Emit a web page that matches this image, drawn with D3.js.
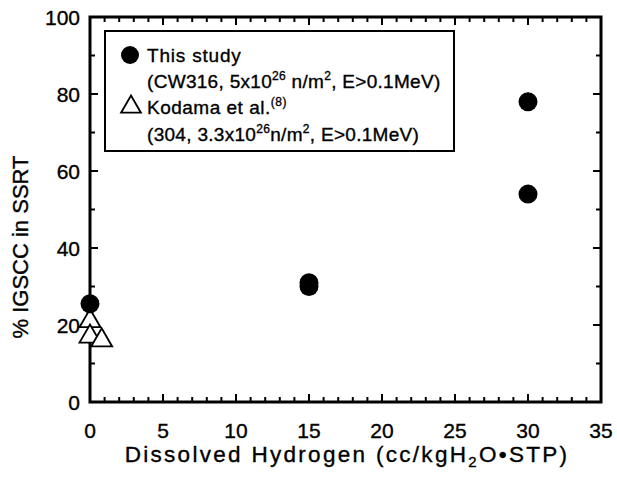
<!DOCTYPE html>
<html><head><meta charset="utf-8">
<script src="https://cdn.jsdelivr.net/npm/d3@7"></script>
<style>body{margin:0;background:#fff}svg{display:block}text{font-family:"Liberation Sans",Arial,sans-serif;fill:#000;stroke:#000;stroke-width:0.35px}</style>
</head><body><svg id="c" width="617" height="477"></svg>
<script>
// Data
const studyH = [0, 15, 15, 30, 30];
const studyIGSCC = [25.5, 31, 30, 78, 54];
const kodamaH = [0, 0, 0.8];
const kodamaIGSCC = [21, 17, 16];
const xTicks = [0, 5, 10, 15, 20, 25, 30, 35];
const yTicks = [0, 20, 40, 60, 80, 100];

const svg = d3.select("#c");
const L = 90, R = 601, T = 17, B = 402;
const x = d3.scaleLinear().domain([0, 35]).range([L, R]);
const y = d3.scaleLinear().domain([0, 100]).range([B, T]);

const xMinor = d3.range(0, 36, 1);
const yMinor = d3.range(0, 101, 10);
const g = svg.append("g");
function xt(v){ return xTicks.includes(v) ? 8 : 5; }
function yt(v){ return yTicks.includes(v) ? 8 : 5; }
g.selectAll(".xb").data(xMinor).enter().append("line")
 .attr("x1", d=>x(d)).attr("x2", d=>x(d)).attr("y1", B).attr("y2", d=>B-xt(d))
 .attr("stroke","#000").attr("stroke-width",2);
g.selectAll(".xt").data(xMinor).enter().append("line")
 .attr("x1", d=>x(d)).attr("x2", d=>x(d)).attr("y1", T).attr("y2", d=>T+xt(d))
 .attr("stroke","#000").attr("stroke-width",2);
g.selectAll(".yl").data(yMinor).enter().append("line")
 .attr("y1", d=>y(d)).attr("y2", d=>y(d)).attr("x1", L).attr("x2", d=>L+yt(d))
 .attr("stroke","#000").attr("stroke-width",2);
g.selectAll(".yr").data(yMinor).enter().append("line")
 .attr("y1", d=>y(d)).attr("y2", d=>y(d)).attr("x1", R).attr("x2", d=>R-yt(d))
 .attr("stroke","#000").attr("stroke-width",2);

svg.append("rect").attr("x",L).attr("y",T).attr("width",R-L).attr("height",B-T)
 .attr("fill","none").attr("stroke","#000").attr("stroke-width",3);

// tick labels
svg.selectAll(".xl").data(xTicks).enter().append("text")
 .attr("x", d=>x(d)).attr("y", 438).attr("text-anchor","middle")
 .attr("font-size",21).text(d=>d);
svg.selectAll(".ylab").data(yTicks).enter().append("text")
 .attr("x", 80).attr("y", d=>y(d)+7.5).attr("text-anchor","end")
 .attr("font-size",21).text(d=>d);

// axis titles
const xtitle = svg.append("text").attr("x",347).attr("y",462).attr("text-anchor","middle")
 .attr("font-size",22.5).attr("letter-spacing",2.3);
xtitle.append("tspan").text("Dissolved Hydrogen (cc/kgH");
xtitle.append("tspan").attr("font-size",15).attr("dy",5).text("2");
xtitle.append("tspan").attr("dy",-5).text("O\u2022STP)");
svg.append("text").attr("transform","translate(28,247) rotate(-90)").attr("text-anchor","middle")
 .attr("font-size",22).text("% IGSCC in SSRT");

// legend
svg.append("rect").attr("x",105).attr("y",31).attr("width",349).attr("height",120)
 .attr("fill","#fff").attr("stroke","#000").attr("stroke-width",2);
svg.append("circle").attr("cx",130).attr("cy",55).attr("r",9).attr("fill","#000");
const tri = d3.symbol().type(d3.symbolTriangle).size(170);
svg.append("path").attr("d",tri).attr("transform","translate(131,107)")
 .attr("fill","#fff").attr("stroke","#000").attr("stroke-width",1.8);
const fs = 19, ss = 12, ls = 0.3;
svg.append("text").attr("x",147).attr("y",62).attr("font-size",fs).attr("letter-spacing",0.8).text("This study");
const l2 = svg.append("text").attr("x",147).attr("y",88).attr("font-size",fs).attr("letter-spacing",ls);
l2.append("tspan").text("(CW316, 5x10");
l2.append("tspan").attr("font-size",ss).attr("dy",-8).text("26");
l2.append("tspan").attr("dy",8).text(" n/m");
l2.append("tspan").attr("font-size",ss).attr("dy",-8).text("2");
l2.append("tspan").attr("dy",8).text(", E>0.1MeV)");
const l3 = svg.append("text").attr("x",147).attr("y",114).attr("font-size",fs).attr("letter-spacing",0.5);
l3.append("tspan").text("Kodama et al.");
l3.append("tspan").attr("font-size",ss).attr("dy",-8).text("(8)");
const l4 = svg.append("text").attr("x",147).attr("y",141).attr("font-size",fs).attr("letter-spacing",ls);
l4.append("tspan").text("(304, 3.3x10");
l4.append("tspan").attr("font-size",ss).attr("dy",-8).text("26");
l4.append("tspan").attr("dy",8).text("n/m");
l4.append("tspan").attr("font-size",ss).attr("dy",-8).text("2");
l4.append("tspan").attr("dy",8).text(", E>0.1MeV)");

// data points
svg.selectAll(".k").data(kodamaH).enter().append("path")
 .attr("d", d3.symbol().type(d3.symbolTriangle).size(190))
 .attr("transform",(d,i)=>`translate(${x(d)},${y(kodamaIGSCC[i])})`)
 .attr("fill","#fff").attr("stroke","#000").attr("stroke-width",1.8);
svg.selectAll(".s").data(studyH).enter().append("circle")
 .attr("cx", d=>x(d)).attr("cy",(d,i)=>y(studyIGSCC[i])).attr("r",9.5).attr("fill","#000");
</script></body></html>
